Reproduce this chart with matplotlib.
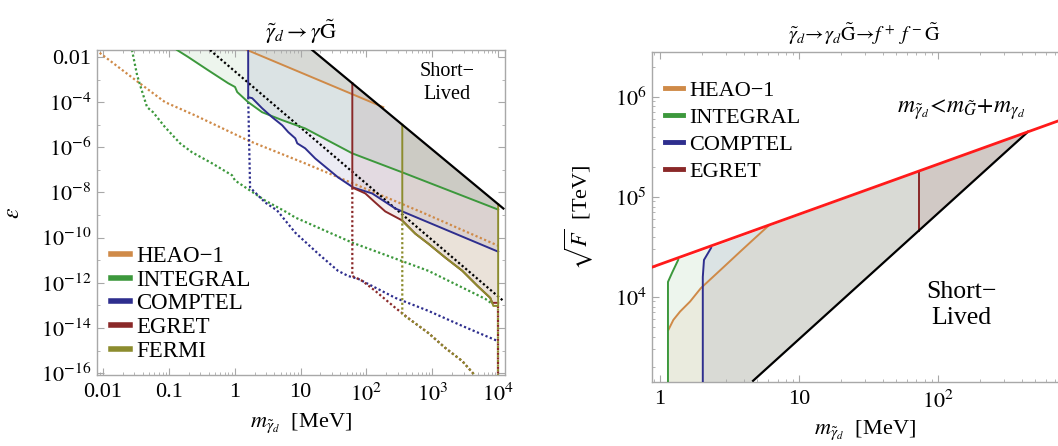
import numpy as np
import matplotlib
matplotlib.use('Agg')
import matplotlib.pyplot as plt
from matplotlib.ticker import FixedLocator, FixedFormatter, NullFormatter, LogLocator

plt.rcParams['font.family'] = ['Liberation Serif', 'DejaVu Serif']
plt.rcParams['mathtext.fontset'] = 'stix'

# ---- left panel: gravitino decay, eps vs mass (MeV) ----
short_m = [15, 1.2e4]
short_eps = [2.04e-2, 1.95e-9]
short_dot_m = [0.42, 1.2e4]
short_dot_eps = [2.04e-2, 1.58e-13]

heao_m = [1.54, 180]
heao_eps = [2.04e-2, 6e-5]
heao_dot_m = [7.8e-3, 0.034, 0.0875, 0.25, 1.6, 11.7, 708, 1e4]
heao_dot_eps = [2.04e-2, 7.8e-4, 1e-4, 2.6e-5, 2.0e-6, 1.95e-7, 1.3e-9, 4.4e-11]

integral_m = [0.133, 0.196, 0.394, 0.794, 1.01, 1.09, 1.6, 2.6, 5.25, 11.7, 61, 350, 1e4]
integral_eps = [2.04e-2, 1e-2, 2.6e-3, 6.9e-4, 4.7e-4, 2.8e-4, 1e-4, 3.6e-5, 1.6e-5,
                6.9e-6, 5.4e-7, 7.8e-8, 1.75e-9]
integral_dot_m = [0.0275, 0.0329, 0.0365, 0.0466, 0.0575, 0.0875, 0.148, 0.225, 0.454,
                  0.912, 1.01, 1.54, 2.9, 6.25, 8.3, 61, 871, 6380, 8130]
integral_dot_eps = [2.04e-2, 1.58e-3, 5.75e-4, 6e-5, 3.6e-5, 7.8e-6, 1.5e-6, 6e-7, 1.95e-7,
                    5.75e-8, 3.4e-8, 1.5e-8, 4.4e-9, 1.3e-9, 7.8e-10, 6e-11, 3.4e-12,
                    1.95e-13, 1.17e-13]

comptel_m = [1.6, 1.6, 1.84, 2.6, 3.7, 5.25, 6.5, 8.3, 8.9, 11.7, 16.7, 37, 63, 122, 275, 1e4]
comptel_eps = [2.04e-2, 1.66e-4, 1.5e-4, 5.4e-5, 2.15e-5, 9.5e-6, 4.7e-6, 2.5e-6, 1.5e-6,
               9.1e-7, 3.2e-7, 4.7e-8, 1.66e-8, 9.1e-9, 1.95e-9, 2.4e-11]
comptel_dot_m = [1.6, 1.71, 2.04, 2.9, 4.4, 8.3, 18.5, 37, 53, 75, 275, 871, 2860, 1e4]
comptel_dot_eps = [1.66e-4, 1.66e-8, 1e-8, 3.6e-9, 1.6e-9, 1.66e-10, 1.95e-11, 3.4e-12,
                   2e-12, 1.5e-12, 2.15e-13, 5.75e-14, 1.23e-14, 2.6e-15]

egret_m = [61, 61, 96, 136, 193, 350, 552, 871, 1580, 2860, 4830, 7590, 8130, 1e4]
egret_eps = [7e-4, 1.66e-8, 9.1e-9, 3.6e-9, 1.45e-9, 5.75e-10, 1.5e-10, 5.4e-11, 1.3e-11,
             3.4e-12, 7.4e-13, 2.15e-13, 1.3e-13, 1.3e-13]
egret_dot_m = [61, 61, 86, 136, 275, 497, 871, 1580, 2860, 4830]
egret_dot_eps = [1.66e-8, 2e-12, 1.23e-12, 4.4e-13, 7.8e-14, 2e-14, 6e-15, 1.3e-15, 3.4e-16, 6e-17]

fermi_m = [350, 350, 552, 871, 1580, 2860, 4830, 7590, 8450, 1e4, 1e4]
fermi_eps = [1e-5, 5.5e-10, 1.5e-10, 5.4e-11, 1.3e-11, 3.4e-12, 7.4e-13, 2.15e-13, 9.5e-14,
             9.5e-14, 3e-9]
fermi_dot_m = [350, 350, 417, 497, 871, 1580, 2860, 4830]
fermi_dot_eps = [5.5e-10, 4.2e-14, 2.8e-14, 2e-14, 6e-15, 1.3e-15, 3.4e-16, 6e-17]

edge_m = [1e4, 1e4]
edge_eps = [9.5e-14, 1e-17]

left_xticks = [0.01, 0.1, 1, 10, 100, 1e3, 1e4]
left_xlabels = ['0.01', '0.1', '1', '10', '$10^2$', '$10^3$', '$10^4$']
left_yticks = [1e-2, 1e-4, 1e-6, 1e-8, 1e-10, 1e-12, 1e-14, 1e-16]
left_ylabels = ['0.01', '$10^{-4}$', '$10^{-6}$', '$10^{-8}$', '$10^{-10}$',
                '$10^{-12}$', '$10^{-14}$', '$10^{-16}$']

# ---- right panel: sqrt(F) vs mass (MeV) ----
red_m = [0.875, 1000]
red_F = [1.98e4, 6.7e5]
black_m = [4.67, 444]
black_F = [1.45e3, 4.47e5]
heao_r_m = [1.148, 1.247, 1.393, 1.644, 1.963, 2.86, 3.76, 4.69, 6.02]
heao_r_F = [4.68e3, 5.89e3, 7.13e3, 8.98e3, 1.22e4, 1.98e4, 2.82e4, 3.74e4, 5.13e4]
integral_r_m = [1.14, 1.14, 1.22, 1.35]
integral_r_F = [1.4e3, 1.41e4, 1.74e4, 2.34e4]
comptel_r_m = [2.03, 2.03, 2.07, 2.33]
comptel_r_F = [1.4e3, 1.58e4, 2.34e4, 3.09e4]
egret_r_m = [73, 73]
egret_r_F = [4.6e4, 1.8e5]

right_xticks = [1, 10, 100]
right_xlabels = ['1', '10', '$10^2$']
right_yticks = [1e4, 1e5, 1e6]
right_ylabels = ['$10^4$', '$10^5$', '$10^6$']

c_heao = '#cf8a48'
c_integral = '#3c983c'
c_comptel = '#2e2e8e'
c_egret = '#8a2828'
c_fermi = '#8c8c2e'
frame = '#a8a8a8'
dotted = (0, (1.0, 1.1))


def power_law(x, xs, ys):
    k = np.log(ys[1] / ys[0]) / np.log(xs[1] / xs[0])
    return ys[0] * (np.asarray(x, float) / xs[0]) ** k


def shade_left(ax, m, eps, color):
    # region above the limit curve and below the short-lived line
    top = power_law([m[-1], m[0]], short_m, short_eps)
    px = list(m) + [m[-1], m[0]]
    py = list(eps) + list(top)
    ax.fill(px, py, color=color, alpha=0.09, lw=0, zorder=1)


def shade_right(ax, m, F, color):
    # region right of the curve, under the red line, above the black line
    px = [m[0]] + list(m) + [black_m[1]]
    py = [power_law(m[0], black_m, black_F)] + list(F) + [black_F[1]]
    ax.fill(px, py, color=color, alpha=0.09, lw=0, zorder=1)


def style_axes(ax):
    for s in ax.spines.values():
        s.set_color(frame)
        s.set_linewidth(1.0)
    ax.tick_params(which='both', direction='in', color=frame, top=True, right=True,
                   labelsize=16, labelcolor='black')
    ax.tick_params(which='major', length=5, width=0.8)
    ax.tick_params(which='minor', length=2.5, width=0.6)


fig = plt.figure(figsize=(10.58, 4.46), dpi=100)

# ===== left =====
ax = fig.add_axes([97 / 1058, 1 - 375 / 446, 408 / 1058, 325 / 446])
ax.set_xscale('log')
ax.set_yscale('log')
ax.set_xlim(0.0081, 1.27e4)
ax.set_ylim(8.3e-17, 2.04e-2)

shade_left(ax, heao_m, heao_eps, c_heao)
shade_left(ax, integral_m, integral_eps, c_integral)
shade_left(ax, comptel_m, comptel_eps, c_comptel)
shade_left(ax, egret_m, egret_eps, c_egret)
shade_left(ax, fermi_m, fermi_eps, c_fermi)

ax.plot(heao_dot_m, heao_dot_eps, color=c_heao, lw=1.6, ls=dotted, zorder=2)
ax.plot(integral_dot_m, integral_dot_eps, color=c_integral, lw=1.6, ls=dotted, zorder=2)
ax.plot(comptel_dot_m, comptel_dot_eps, color=c_comptel, lw=1.6, ls=dotted, zorder=2)
ax.plot(egret_dot_m, egret_dot_eps, color=c_egret, lw=1.6, ls=dotted, zorder=2)
ax.plot(fermi_dot_m, fermi_dot_eps, color=c_fermi, lw=1.6, ls=(1, (1.0, 1.1)), zorder=2)
ax.plot(edge_m, edge_eps, color=c_egret, lw=1.6, ls=dotted, zorder=2)
ax.plot(edge_m, edge_eps, color=c_fermi, lw=1.6, ls=(1, (1.0, 1.1)), zorder=2)
ax.plot(short_dot_m, short_dot_eps, color='black', lw=1.6, ls=dotted, zorder=3)

ax.plot(heao_m, heao_eps, color=c_heao, lw=1.4, zorder=4, label='HEAO\u22121')
ax.plot(integral_m, integral_eps, color=c_integral, lw=1.4, zorder=4, label='INTEGRAL')
ax.plot(comptel_m, comptel_eps, color=c_comptel, lw=1.4, zorder=4, label='COMPTEL')
ax.plot(egret_m, egret_eps, color=c_egret, lw=1.4, zorder=4, label='EGRET')
ax.plot(fermi_m, fermi_eps, color=c_fermi, lw=1.4, zorder=5, label='FERMI')
ax.plot(short_m, short_eps, color='black', lw=1.6, zorder=6)

style_axes(ax)
ax.xaxis.set_major_locator(FixedLocator(left_xticks))
ax.xaxis.set_major_formatter(FixedFormatter(left_xlabels))
ax.xaxis.set_minor_locator(LogLocator(base=10, subs=np.arange(2, 10), numticks=30))
ax.xaxis.set_minor_formatter(NullFormatter())
ax.yaxis.set_major_locator(FixedLocator(left_yticks))
ax.yaxis.set_major_formatter(FixedFormatter(left_ylabels))
ax.yaxis.set_minor_locator(FixedLocator([10.0 ** p for p in range(-17, -1, 2)]))
ax.yaxis.set_minor_formatter(NullFormatter())
ax.tick_params(axis='x', pad=6)
ax.tick_params(axis='y', pad=4)

ax.set_title(r'$\tilde{\gamma}_d \rightarrow \gamma\tilde{\mathrm{G}}$', fontsize=16, pad=8)
ax.set_xlabel(r'$m_{\tilde{\gamma}_d}$  [MeV]', fontsize=16, labelpad=4)
ax.set_ylabel(r'$\epsilon$', fontsize=17, labelpad=12)
ax.text(0.858, 0.898, 'Short\u2212\nLived', transform=ax.transAxes, ha='center',
        va='center', fontsize=14.5, linespacing=1.3, zorder=7)

leg = ax.legend(loc='lower left', bbox_to_anchor=(0.035, 0.04), frameon=False,
                fontsize=16.5, handlelength=0.8, handletextpad=0.3, labelspacing=0.12,
                borderpad=0, borderaxespad=0)
for h in leg.get_lines():
    h.set_linewidth(4)

# ===== right =====
ax2 = fig.add_axes([652 / 1058, 1 - 382 / 446, 425 / 1058, 330 / 446])
ax2.set_xscale('log')
ax2.set_yscale('log')
ax2.set_xlim(0.875, 1000)
ax2.set_ylim(1.41e3, 2.8e6)

shade_right(ax2, integral_r_m, integral_r_F, c_integral)
shade_right(ax2, comptel_r_m, comptel_r_F, c_comptel)
shade_right(ax2, heao_r_m, heao_r_F, c_heao)
shade_right(ax2, egret_r_m, egret_r_F, c_egret)

ax2.plot(heao_r_m, heao_r_F, color=c_heao, lw=1.4, zorder=4, label='HEAO\u22121')
ax2.plot(integral_r_m, integral_r_F, color=c_integral, lw=1.4, zorder=4, label='INTEGRAL')
ax2.plot(comptel_r_m, comptel_r_F, color=c_comptel, lw=1.4, zorder=4, label='COMPTEL')
ax2.plot(egret_r_m, egret_r_F, color=c_egret, lw=1.4, zorder=4, label='EGRET')
ax2.plot(black_m, black_F, color='black', lw=1.6, zorder=5)
ax2.plot(red_m, red_F, color='#ff1a1a', lw=2.0, zorder=6)

style_axes(ax2)
ax2.spines['right'].set_visible(False)
ax2.tick_params(which='both', right=False)
ax2.xaxis.set_major_locator(FixedLocator(right_xticks))
ax2.xaxis.set_major_formatter(FixedFormatter(right_xlabels))
ax2.xaxis.set_minor_locator(LogLocator(base=10, subs=np.arange(2, 10), numticks=30))
ax2.xaxis.set_minor_formatter(NullFormatter())
ax2.yaxis.set_major_locator(FixedLocator(right_yticks))
ax2.yaxis.set_major_formatter(FixedFormatter(right_ylabels))
ax2.yaxis.set_minor_locator(LogLocator(base=10, subs=np.arange(2, 10), numticks=30))
ax2.yaxis.set_minor_formatter(NullFormatter())
ax2.tick_params(axis='x', pad=6)
ax2.tick_params(axis='y', pad=4)

ax2.set_title(r'$\tilde{\gamma}_d\!\rightarrow\!\gamma_d\tilde{\mathrm{G}}\!\rightarrow\!f^+\ f^-\tilde{\mathrm{G}}$',
              fontsize=14.5, pad=8)
ax2.set_xlabel(r'$m_{\tilde{\gamma}_d}$  [MeV]', fontsize=16, labelpad=4)
ax2.set_ylabel(r'$\sqrt{F}$  [TeV]', fontsize=16, labelpad=14)
ax2.text(0.727, 0.824, r'$m_{\tilde{\gamma}_d}\!<\!m_{\tilde{G}}\!+\!m_{\gamma_d}$',
         transform=ax2.transAxes, ha='center', va='center', fontsize=17, zorder=7)
ax2.text(0.729, 0.233, 'Short\u2212\nLived', transform=ax2.transAxes, ha='center',
         va='center', fontsize=18.5, linespacing=1.25, zorder=7)

leg2 = ax2.legend(loc='upper left', bbox_to_anchor=(0.03, 0.915), frameon=False,
                  fontsize=16, handlelength=0.8, handletextpad=0.3, labelspacing=0.3,
                  borderpad=0, borderaxespad=0)
for h in leg2.get_lines():
    h.set_linewidth(3.5)

fig.savefig('out.png', dpi=100)
